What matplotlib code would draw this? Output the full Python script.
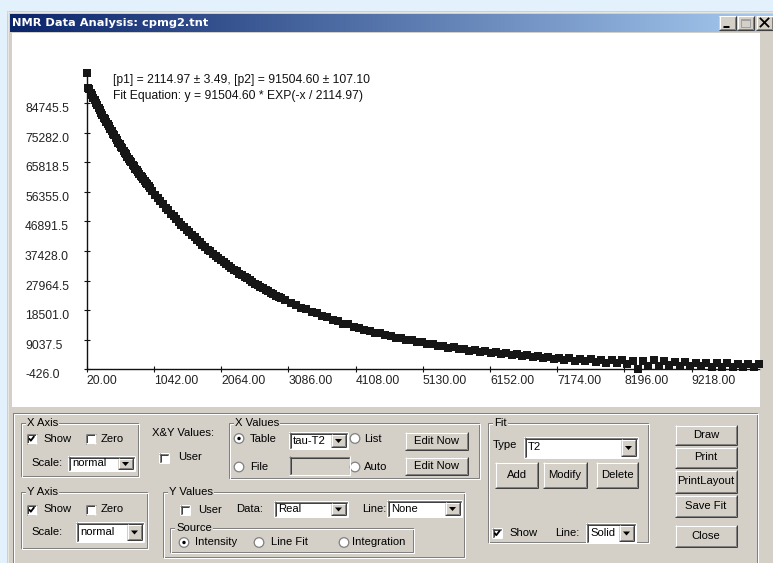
import numpy as np
import matplotlib
matplotlib.use('Agg')
import matplotlib.pyplot as plt
from matplotlib.patches import Rectangle, Circle, Polygon
from matplotlib.transforms import ScaledTranslation

# --- data (tau, intensity) ---
tau_a = np.arange(20, 981, 20)
amp_a = [94209, 89450, 89100, 88000, 87400, 86300, 85700, 84700, 84100, 83100,
         82500, 81600, 81000, 80100, 79500, 78600, 77900, 77300, 76400, 75800,
         74900, 74400, 73500, 73000, 72100, 71600, 70800, 70300, 69500, 68900,
         68300, 67600, 67000, 66300, 65800, 65000, 64500, 63800, 63300, 62600,
         62200, 61400, 61000, 60300, 59800, 59200, 58700, 58100, 57600]

tau_b = np.arange(1020, 2981, 40)
amp_b = [56500, 55300, 54500, 53300, 52500, 51300, 50500, 49400, 48600, 47600,
         46800, 45800, 45100, 44100, 43400, 42500, 41800, 40900, 40300, 39400,
         38800, 37900, 37300, 36500, 35950, 35150, 34600, 33850, 33300, 32600,
         32100, 31400, 30900, 30200, 29750, 29100, 28650, 28000, 27600, 26950,
         26550, 25950, 25600, 25000, 24650, 24050, 23750, 23150, 22850, 22300]

tau_c = np.arange(3040, 10241, 80)
amp_c = [21800, 20850, 20250, 19300, 18800, 17900, 17450, 16550, 16200, 15350,
         15000, 14200, 13950, 13150, 12950, 12200, 12000, 11300, 11150, 10450,
         10350, 9700, 9600, 8950, 8950, 8300, 8300, 7650, 7700, 7100,
         7200, 6550, 6700, 6050, 6250, 5600, 5800, 5200, 5400, 4800,
         5050, 4400, 4700, 4050, 4400, 3750, 4100, 3450, 3850, 3200,
         3600, 2950, 3350, 2650, 3150, 2400, 3000, 2200, 2800, 1950,
         2700, 1750, 2600, 1500, 2450, 1200, 2350, -426, 2300, 800,
         2500, 700, 2200, 900, 1900, 600, 1800, 800, 1600, 600,
         1500, 500, 1600, 400, 1500, 300, 1400, 400, 1300, 300, 1200]

x_ticks = [20.0, 1042.0, 2064.0, 3086.0, 4108.0, 5130.0, 6152.0, 7174.0, 8196.0, 9218.0]
y_ticks = [-426.0, 9037.5, 18501.0, 27964.5, 37428.0, 46891.5, 56355.0, 65818.5, 75282.0, 84745.5]
x_range = (20.0, 10240.0)
y_range = (-426.0, 94209.0)

fit_line1 = '[p1] = 2114.97 \u00b1 3.49, [p2] = 91504.60 \u00b1 107.10'
fit_line2 = 'Fit Equation: y = 91504.60 * EXP(-x / 2114.97)'
window_title = 'NMR Data Analysis: cpmg2.tnt'

W, H = 773, 563
FACE = '#d4d0c8'
SHADOW = '#808080'
DARK = '#404040'
PX = 0.72  # one pixel in points
UI_FONT = 'Liberation Sans'

fig = plt.figure(figsize=(W / 100, H / 100), dpi=100)
fig.patch.set_facecolor('#e2f1fb')

bg = fig.add_axes([0, 0, 1, 1])
bg.set_xlim(0, W)
bg.set_ylim(H, 0)
bg.axis('off')


def box(x, y, w, h, fc, ec='none'):
    bg.add_patch(Rectangle((x, y), w, h, facecolor=fc, edgecolor=ec, lw=PX))


def hline(x1, x2, y, c):
    bg.plot([x1, x2], [y, y], color=c, lw=PX, solid_capstyle='butt')


def vline(x, y1, y2, c):
    bg.plot([x, x], [y1, y2], color=c, lw=PX, solid_capstyle='butt')


def raised(x, y, w, h):
    box(x, y, w, h, FACE)
    hline(x, x + w, y + 0.5, 'white')
    vline(x + 0.5, y, y + h, 'white')
    hline(x, x + w, y + h - 0.5, DARK)
    vline(x + w - 0.5, y, y + h, DARK)
    hline(x + 1, x + w - 1, y + h - 1.5, SHADOW)
    vline(x + w - 1.5, y + 1, y + h - 1, SHADOW)


def sunken(x, y, w, h, fc='white'):
    box(x, y, w, h, fc)
    hline(x, x + w, y + 0.5, SHADOW)
    vline(x + 0.5, y, y + h, SHADOW)
    hline(x + 1, x + w - 1, y + 1.5, DARK)
    vline(x + 1.5, y + 1, y + h - 1, DARK)
    hline(x, x + w, y + h - 0.5, 'white')
    vline(x + w - 0.5, y, y + h, 'white')


def label(x, y, s, ha='left', **kw):
    return bg.text(x, y, s, fontsize=8.1, family=UI_FONT, ha=ha, va='center',
                   color='black', **kw)


def button(x0, x1, y0, y1, s):
    raised(x0, y0, x1 - x0, y1 - y0)
    label((x0 + x1) / 2, (y0 + y1) / 2, s, ha='center')


def group(x0, y0, x1, y1, title):
    bg.add_patch(Rectangle((x0, y0), x1 - x0, y1 - y0, fill=False, ec=SHADOW, lw=PX))
    bg.add_patch(Rectangle((x0 + 1, y0 + 1), x1 - x0, y1 - y0, fill=False, ec='white', lw=PX))
    label(x0 + 6, y0, title,
          bbox=dict(boxstyle='square,pad=0.1', fc=FACE, ec='none'))


def checkbox(x, y, checked):
    sunken(x, y, 10, 10)
    if checked:
        bg.plot([x + 2.5, x + 4.3, x + 7.8], [y + 4.8, y + 7.2, y + 2.6],
                color='black', lw=1.3, solid_capstyle='butt')


def radio(cx, cy, sel):
    bg.add_patch(Circle((cx, cy), 4.8, fc='white', ec=SHADOW, lw=0.9))
    if sel:
        bg.add_patch(Circle((cx, cy), 1.7, fc='black', ec='none'))


def dropdown(x0, x1, y0, y1, s, fc='white'):
    sunken(x0, y0, x1 - x0, y1 - y0, fc)
    bw = 15
    raised(x1 - bw - 2, y0 + 2, bw, y1 - y0 - 4)
    cx, cy = x1 - 2 - bw / 2, (y0 + y1) / 2
    bg.add_patch(Polygon([[cx - 3.5, cy - 1.5], [cx + 3.5, cy - 1.5], [cx, cy + 2.5]],
                         closed=True, fc='black', ec='none'))
    label(x0 + 4, (y0 + y1) / 2, s)


# --- window frame and title bar ---
box(7, 11, W - 7, H - 11, FACE)
vline(7.5, 11, H, '#e8e6e0')
hline(7, W, 11.5, '#e8e6e0')
grad = np.linspace(0, 1, 300)
c0 = np.array([0x0a, 0x24, 0x6a]) / 255
c1 = np.array([0xa6, 0xca, 0xf0]) / 255
bar = (c0[None, :] * (1 - grad[:, None]) + c1[None, :] * grad[:, None])[None, :, :]
bg.imshow(bar, extent=(10, W, 32, 14), aspect='auto', interpolation='bilinear', zorder=1)
bg.set_xlim(0, W)
bg.set_ylim(H, 0)
bg.text(12, 23.5, window_title, color='white', fontsize=8.2, fontweight='bold',
        family='DejaVu Sans', va='center', ha='left', zorder=3)

for bx in (719, 737, 756):
    raised(bx, 15.5, 17, 14.5)
hline(723, 729, 26, 'black')
hline(723, 729, 26.8, 'black')
bg.add_patch(Rectangle((741, 18.5), 9, 8, fill=False, ec='#a0a0a0', lw=PX))
hline(741, 750, 19.5, '#a0a0a0')
bg.plot([760.5, 768.5], [18.5, 26.5], color='black', lw=1.3)
bg.plot([760.5, 768.5], [26.5, 18.5], color='black', lw=1.3)

# white plot panel
box(12, 33, 748, 374, 'white')

# --- control panel ---
bg.add_patch(Rectangle((13, 413), 744, 170, fill=False, ec=SHADOW, lw=PX))
bg.add_patch(Rectangle((14, 414), 744, 170, fill=False, ec='white', lw=PX))

group(21, 423, 138, 476, 'X Axis')
checkbox(26.5, 433.5, True)
label(43, 438.5, 'Show')
checkbox(85.5, 433.5, False)
label(101, 438.5, 'Zero')
label(31, 463, 'Scale:')
dropdown(68, 135, 456, 471, 'normal')

label(152, 433, 'X&Y Values:')
checkbox(159, 453, False)
label(178, 457.5, 'User')

group(229, 423, 479, 478, 'X Values')
radio(239, 438.5, True)
label(250, 438.5, 'Table')
dropdown(289, 348, 432, 449, 'tau-T2')
radio(355, 438.5, False)
label(364, 438.5, 'List')
button(405, 468, 432, 450, 'Edit Now')
radio(239, 467, False)
label(250, 467, 'File')
sunken(289, 456, 61, 19, FACE)
radio(355, 467, False)
label(364, 467, 'Auto')
button(405, 468, 457, 475, 'Edit Now')

group(21, 492, 147, 548, 'Y Axis')
checkbox(26.5, 504.5, True)
label(43, 509.5, 'Show')
checkbox(85.5, 504.5, False)
label(101, 509.5, 'Zero')
label(31, 532, 'Scale:')
dropdown(76, 144, 522, 542, 'normal')

group(163, 492, 464, 557, 'Y Values')
checkbox(180, 505, False)
label(198, 510, 'User')
label(236, 509, 'Data:')
dropdown(274, 348, 501, 517, 'Real')
label(362, 509, 'Line:')
dropdown(387, 462, 500, 517, 'None')
group(170, 528, 413, 552, 'Source')
radio(184, 542.5, True)
label(195, 542, 'Intensity')
radio(259, 542.5, False)
label(271, 542, 'Line Fit')
radio(344, 542.5, False)
label(352, 542, 'Integration')

group(488, 423, 648, 542, 'Fit')
label(493, 445, 'Type')
dropdown(524, 638, 437, 458, 'T2')
button(495, 538, 462, 488, 'Add')
button(543, 587, 462, 488, 'Modify')
button(596, 638, 462, 488, 'Delete')
checkbox(492, 528, True)
label(509, 533, 'Show')
label(555, 533, 'Line:')
dropdown(586, 636, 523, 543, 'Solid')

button(675, 737, 425, 445, 'Draw')
button(675, 737, 447, 468, 'Print')
button(675, 737, 470, 493, 'PrintLayout')
button(675, 737, 495, 517, 'Save Fit')
button(675, 737, 525, 547, 'Close')

# fit parameters text
bg.text(113, 80.5, fit_line1, fontsize=8.7, family=UI_FONT, va='center', ha='left', color='#111111')
bg.text(113, 96.5, fit_line2, fontsize=8.7, family=UI_FONT, va='center', ha='left', color='#111111')

# --- data axes ---
x0, x1 = 86.7, 758.9
y0, y1 = 369.4, 73.4
ax = fig.add_axes([x0 / W, (H - y0) / H, (x1 - x0) / W, (y0 - y1) / H])
ax.patch.set_visible(False)
for tau, amp in ((tau_a, amp_a), (tau_b, amp_b), (tau_c, amp_c)):
    ax.plot(tau, amp, 's', ms=5.3, color='#161616', mew=0, clip_on=False)

ax.set_xlim(*x_range)
ax.set_ylim(*y_range)
for side in ('top', 'right'):
    ax.spines[side].set_visible(False)
for side in ('left', 'bottom'):
    ax.spines[side].set_linewidth(1.0)
    ax.spines[side].set_color('#111111')

ax.set_xticks(x_ticks)
ax.set_xticklabels([f'{v:.2f}' for v in x_ticks])
ax.set_yticks(y_ticks)
ax.set_yticklabels([f'{v:.1f}' for v in y_ticks])
ax.tick_params(direction='inout', length=5, width=0.8, color='#111111',
               labelsize=8.7, labelcolor='#222222')
ax.tick_params(axis='y', pad=41.9)
ax.tick_params(axis='x', pad=1.5)

ydown = ScaledTranslation(0, -0.045, fig.dpi_scale_trans)
for lbl in ax.get_yticklabels():
    lbl.set_horizontalalignment('left')
    lbl.set_family(UI_FONT)
    lbl.set_transform(lbl.get_transform() + ydown)
for lbl in ax.get_xticklabels():
    lbl.set_horizontalalignment('left')
    lbl.set_family(UI_FONT)

fig.savefig('out.png', dpi=100, facecolor=fig.get_facecolor())
